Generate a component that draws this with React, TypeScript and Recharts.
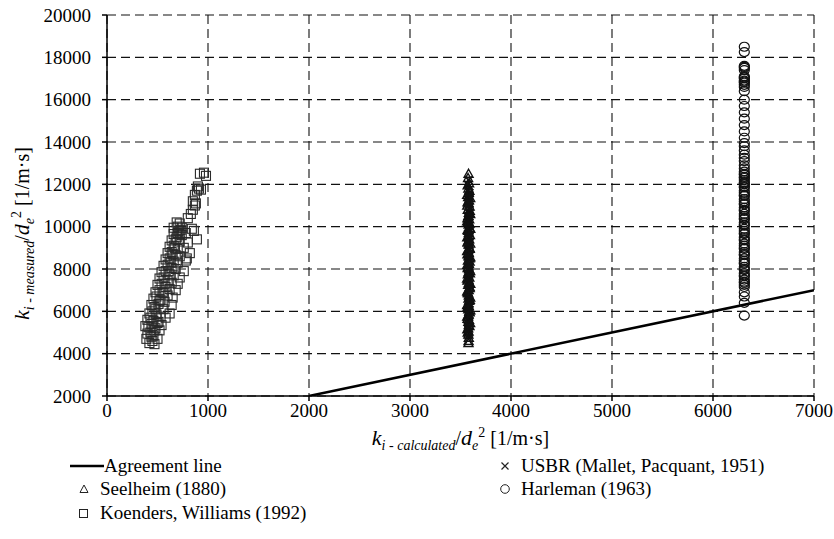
import { ScatterChart, Scatter, XAxis, YAxis, CartesianGrid, Label } from 'recharts';

const FONT = 'Liberation Serif, DejaVu Serif, serif';

const xTicks = [0, 1000, 2000, 3000, 4000, 5000, 6000, 7000];
const yTicks = [2000, 4000, 6000, 8000, 10000, 12000, 14000, 16000, 18000, 20000];

// y = x agreement line, shown over the visible range
const agreementLine = [
  [2000, 2000],
  [7000, 7000],
];

const seelheim = [
  [3580, 12500], [3575, 12300], [3585, 12050], [3578, 11800], [3582, 11600], [3576, 11400],
  [3584, 11250], [3579, 11100], [3590, 10950], [3572, 10800], [3583, 10650], [3577, 10500],
  [3586, 10350], [3574, 10200], [3581, 10100], [3589, 9950], [3575, 9800], [3582, 9700],
  [3578, 9550], [3586, 9400], [3573, 9300], [3580, 9150], [3588, 9000], [3576, 8900],
  [3583, 8750], [3579, 8600], [3591, 8500], [3574, 8400], [3582, 8250], [3577, 8100],
  [3585, 8000], [3580, 7850], [3573, 7750], [3587, 7600], [3578, 7500], [3584, 7350],
  [3576, 7250], [3590, 7100], [3581, 7000], [3575, 6850], [3583, 6750], [3579, 6600],
  [3586, 6500], [3574, 6350], [3582, 6250], [3577, 6100], [3588, 6000], [3580, 5850],
  [3575, 5750], [3584, 5600], [3578, 5500], [3582, 5350], [3576, 5200], [3580, 5050],
  [3578, 4900], [3582, 4750], [3580, 4600], [3579, 4500],
  [3571, 11950], [3588, 11700], [3570, 11150], [3592, 10750], [3569, 10400], [3590, 10150],
  [3571, 9850], [3593, 9600], [3570, 9250], [3592, 8950], [3569, 8700], [3590, 8350],
  [3571, 8050], [3593, 7800], [3569, 7450], [3591, 7150], [3570, 6900], [3592, 6550],
  [3571, 6200], [3590, 5950], [3570, 5650], [3588, 5300], [3572, 5000],
  [3566, 11500], [3596, 11350], [3567, 11000], [3596, 10600], [3566, 10250], [3597, 9900],
  [3567, 9500], [3596, 9200], [3566, 8850], [3597, 8550], [3567, 8200], [3596, 7900],
  [3566, 7550], [3597, 7300], [3567, 6950], [3596, 6650], [3566, 6300], [3597, 6050],
  [3567, 5750], [3595, 5450], [3568, 5150],
];

const usbr = [
  [3580, 12200], [3584, 11900], [3576, 11700], [3590, 11500], [3582, 11300], [3578, 11050],
  [3592, 10900], [3580, 10700], [3586, 10450], [3575, 10300], [3583, 10050], [3593, 9850],
  [3578, 9650], [3587, 9450], [3581, 9250], [3591, 9050], [3576, 8850], [3584, 8650],
  [3589, 8450], [3579, 8250], [3585, 8050], [3592, 7850], [3577, 7650], [3583, 7450],
  [3588, 7250], [3580, 7050], [3586, 6850], [3575, 6650], [3584, 6450], [3590, 6250],
  [3579, 6050], [3583, 5850], [3577, 5650], [3585, 5450], [3580, 5250], [3582, 5050],
  [3578, 4850],
  [3572, 12000], [3594, 11600], [3571, 11200], [3595, 10800], [3572, 10550], [3594, 10200],
  [3570, 9950], [3595, 9550], [3572, 9150], [3594, 8750], [3571, 8350], [3595, 7950],
  [3572, 7550], [3594, 7150], [3571, 6750], [3595, 6350], [3572, 5950], [3593, 5550],
  [3572, 5150],
  [3587, 11450], [3577, 11150], [3588, 10600], [3577, 10150], [3588, 9750], [3577, 9350],
  [3588, 8950], [3577, 8550], [3588, 8150], [3577, 7750], [3588, 7350], [3577, 6950],
  [3588, 6550], [3577, 6150], [3588, 5750], [3577, 5350],
];

const koenders = [
  [390, 4700], [420, 4500], [450, 4600], [470, 4450], [400, 4950], [430, 5000], [460, 4850],
  [500, 4700], [380, 5300], [410, 5250], [440, 5400], [480, 5200], [520, 5100], [400, 5600],
  [430, 5700], [460, 5550], [500, 5450], [540, 5350], [420, 5900], [450, 6000], [490, 5850],
  [530, 5750], [580, 5700], [440, 6300], [470, 6200], [510, 6350], [560, 6100], [620, 5900],
  [460, 6600], [490, 6700], [530, 6550], [570, 6450], [640, 6300], [480, 6900], [520, 7000],
  [560, 6850], [600, 6750], [650, 6650], [500, 7250], [540, 7300], [580, 7150], [620, 7050],
  [680, 7000], [520, 7550], [560, 7600], [600, 7450], [640, 7350], [700, 7300], [540, 7850],
  [580, 7900], [620, 7750], [660, 7700], [720, 7600], [560, 8150], [600, 8200], [640, 8050],
  [680, 8000], [760, 7900], [580, 8450], [620, 8500], [660, 8350], [700, 8300], [780, 8400],
  [600, 8750], [640, 8800], [680, 8650], [720, 8600], [790, 8500], [820, 8750], [620, 9050],
  [660, 9100], [700, 8950], [760, 9000], [640, 9350], [680, 9400], [720, 9300], [800, 9250],
  [890, 9400], [660, 9650], [700, 9700], [740, 9600], [720, 9650], [660, 9950], [700, 10000],
  [730, 9850], [740, 9950], [780, 9700], [690, 10200], [720, 10150], [840, 9900], [860, 9800],
  [800, 10400], [830, 10600], [850, 10800], [870, 11000], [850, 11200], [880, 11100],
  [870, 11500], [890, 11700], [910, 11800], [900, 11900], [930, 11750], [920, 12500],
  [960, 12550], [980, 12400],
  [440, 4800], [470, 5100], [510, 5500], [450, 5300], [480, 6100], [520, 6500], [550, 6900],
  [570, 7300], [610, 7900], [630, 8300], [650, 8700], [670, 9000], [690, 9500], [710, 9800],
];

const harleman = [
  [6310, 18500], [6310, 18250], [6310, 17600], [6310, 17500], [6310, 17400], [6310, 17100],
  [6310, 17000], [6310, 16900], [6310, 16800], [6310, 16700], [6310, 16600], [6310, 16400],
  [6310, 16000], [6310, 15700], [6310, 15400], [6310, 15100], [6310, 14800], [6310, 14500],
  [6310, 14200], [6310, 13950], [6310, 13800], [6310, 13600], [6310, 13400], [6310, 13250],
  [6310, 13100], [6310, 12900], [6310, 12750], [6310, 12600], [6310, 12500], [6310, 12350],
  [6310, 12200], [6310, 12100], [6310, 12000], [6310, 11850], [6310, 11700], [6310, 11600],
  [6310, 11450], [6310, 11300], [6310, 11200], [6310, 11050], [6310, 10900], [6310, 10750],
  [6310, 10600], [6310, 10500], [6310, 10350], [6310, 10200], [6310, 10050], [6310, 9900],
  [6310, 9800], [6310, 9650], [6310, 9500], [6310, 9350], [6310, 9200], [6310, 9100],
  [6310, 8950], [6310, 8800], [6310, 8650], [6310, 8500], [6310, 8400], [6310, 8250],
  [6310, 8100], [6310, 7950], [6310, 7800], [6310, 7650], [6310, 7500], [6310, 7350],
  [6310, 7150], [6310, 6900], [6310, 6700], [6310, 6400], [6310, 5800],
  [6310, 17550], [6310, 17050], [6310, 16850], [6310, 12450], [6310, 12300], [6310, 12050],
  [6310, 11900], [6310, 11500], [6310, 11100], [6310, 10800], [6310, 10400], [6310, 10100],
  [6310, 9700], [6310, 9400], [6310, 9000], [6310, 8700], [6310, 8300], [6310, 8000],
  [6310, 7700], [6310, 7400], [6310, 7250],
];

const toPoints = (arr: number[][]) => arr.map(([x, y]) => ({ x, y }));

const MARK = '#111';

const Square = (p: any) => (
  <rect x={p.cx - 4.5} y={p.cy - 4.5} width={9} height={9} fill="none" stroke="#2a2a2a" strokeWidth={1.1} />
);
const Triangle = (p: any) => (
  <path d={`M${p.cx},${p.cy - 4.5}L${p.cx + 4.5},${p.cy + 3.5}L${p.cx - 4.5},${p.cy + 3.5}Z`}
    fill="none" stroke={MARK} strokeWidth={1.4} />
);
const Cross = (p: any) => (
  <path d={`M${p.cx - 3.5},${p.cy - 3.5}L${p.cx + 3.5},${p.cy + 3.5}M${p.cx + 3.5},${p.cy - 3.5}L${p.cx - 3.5},${p.cy + 3.5}`}
    stroke={MARK} strokeWidth={1.6} />
);
const Circle = (p: any) => (
  <ellipse cx={p.cx} cy={p.cy} rx={5} ry={4.5} fill="none" stroke="#111" strokeWidth={1.2} />
);

function AxisTitle({ x, y, rotate, sub }: { x: number; y: number; rotate: boolean; sub: string }) {
  return (
    <text x={x} y={y} textAnchor="middle" style={{ fontFamily: FONT }} fontSize={20} fill="#000"
      transform={rotate ? `rotate(-90 ${x} ${y})` : undefined}>
      <tspan fontStyle="italic" fontSize={22}>k</tspan>
      <tspan fontStyle="italic" fontSize={14} dy={5}>{sub}</tspan>
      <tspan dy={-5}>/</tspan>
      <tspan fontStyle="italic" fontSize={22}>d</tspan>
      <tspan fontStyle="italic" fontSize={14} dy={5}>e</tspan>
      <tspan fontSize={14} dy={-13}>2</tspan>
      <tspan dy={8}>{' [1/m·s]'}</tspan>
    </text>
  );
}

const legendLeft = [
  { name: 'Agreement line', sym: 'line' },
  { name: 'Seelheim (1880)', sym: 'triangle' },
  { name: 'Koenders, Williams (1992)', sym: 'square' },
];
const legendRight = [
  { name: 'USBR (Mallet, Pacquant, 1951)', sym: 'cross' },
  { name: 'Harleman (1963)', sym: 'circle' },
];

function LegendSymbol({ sym }: { sym: string }) {
  if (sym === 'line') {
    return <svg width={34} height={12}><line x1={0} y1={6} x2={34} y2={6} stroke="#000" strokeWidth={2.5} /></svg>;
  }
  return (
    <svg width={14} height={12} style={{ marginLeft: 7, marginRight: 9 }}>
      {sym === 'triangle' && <path d="M7,2L11,9.5L3,9.5Z" fill="none" stroke="#222" strokeWidth={1} />}
      {sym === 'square' && <rect x={2.5} y={2.5} width={8} height={8} fill="none" stroke="#222" strokeWidth={1} />}
      {sym === 'cross' && <path d="M3.5,2.5L10.5,9.5M10.5,2.5L3.5,9.5" stroke="#222" strokeWidth={1.2} />}
      {sym === 'circle' && <circle cx={7} cy={6} r={4.3} fill="none" stroke="#222" strokeWidth={1} />}
    </svg>
  );
}

function LegendColumn({ items, left }: { items: { name: string; sym: string }[]; left: number }) {
  return (
    <div style={{ position: 'absolute', left, top: 454, fontFamily: FONT, fontSize: 19, color: '#000' }}>
      {items.map((it) => (
        <div key={it.name} style={{ display: 'flex', alignItems: 'center', height: 23.5 }}>
          <LegendSymbol sym={it.sym} />
          <span>{it.name}</span>
        </div>
      ))}
    </div>
  );
}

export default function App() {
  const tick = { fontSize: 19, fill: '#000', style: { fontFamily: FONT } };
  return (
    <div style={{ position: 'absolute', left: 0, top: 0, width: 834, height: 539, background: '#fff', fontFamily: FONT }}>
      <ScatterChart width={834} height={460} margin={{ top: 15, right: 20, bottom: 0, left: 0 }}>
        <CartesianGrid stroke="#111" strokeDasharray="9 5" strokeWidth={1.1} />
        <XAxis type="number" dataKey="x" domain={[0, 7000]} ticks={xTicks} height={64}
          tick={tick} tickSize={5} tickMargin={3} stroke="#000" strokeWidth={1.5}
          interval={0} allowDataOverflow>
          <Label content={(props: any) => {
            const vb = props.viewBox;
            return <AxisTitle x={vb.x + vb.width / 2} y={vb.y + 49} rotate={false} sub="i - calculated" />;
          }} />
        </XAxis>
        <YAxis type="number" dataKey="y" domain={[2000, 20000]} ticks={yTicks} width={107}
          tick={tick} tickSize={5} tickMargin={11} stroke="#000" strokeWidth={1.5}
          interval={0} allowDataOverflow>
          <Label content={(props: any) => {
            const vb = props.viewBox;
            return <AxisTitle x={29} y={vb.y + vb.height / 2 + 28} rotate sub="i - measured" />;
          }} />
        </YAxis>
        <Scatter name="Agreement line" data={toPoints(agreementLine)} line={{ stroke: '#000', strokeWidth: 2.5 }}
          shape={() => <g />} isAnimationActive={false} />
        <Scatter name="Koenders, Williams (1992)" data={toPoints(koenders)} shape={Square} isAnimationActive={false} />
        <Scatter name="Seelheim (1880)" data={toPoints(seelheim)} shape={Triangle} isAnimationActive={false} />
        <Scatter name="USBR (Mallet, Pacquant, 1951)" data={toPoints(usbr)} shape={Cross} isAnimationActive={false} />
        <Scatter name="Harleman (1963)" data={toPoints(harleman)} shape={Circle} isAnimationActive={false} />
      </ScatterChart>
      <LegendColumn items={legendLeft} left={70} />
      <LegendColumn items={legendRight} left={491} />
    </div>
  );
}
